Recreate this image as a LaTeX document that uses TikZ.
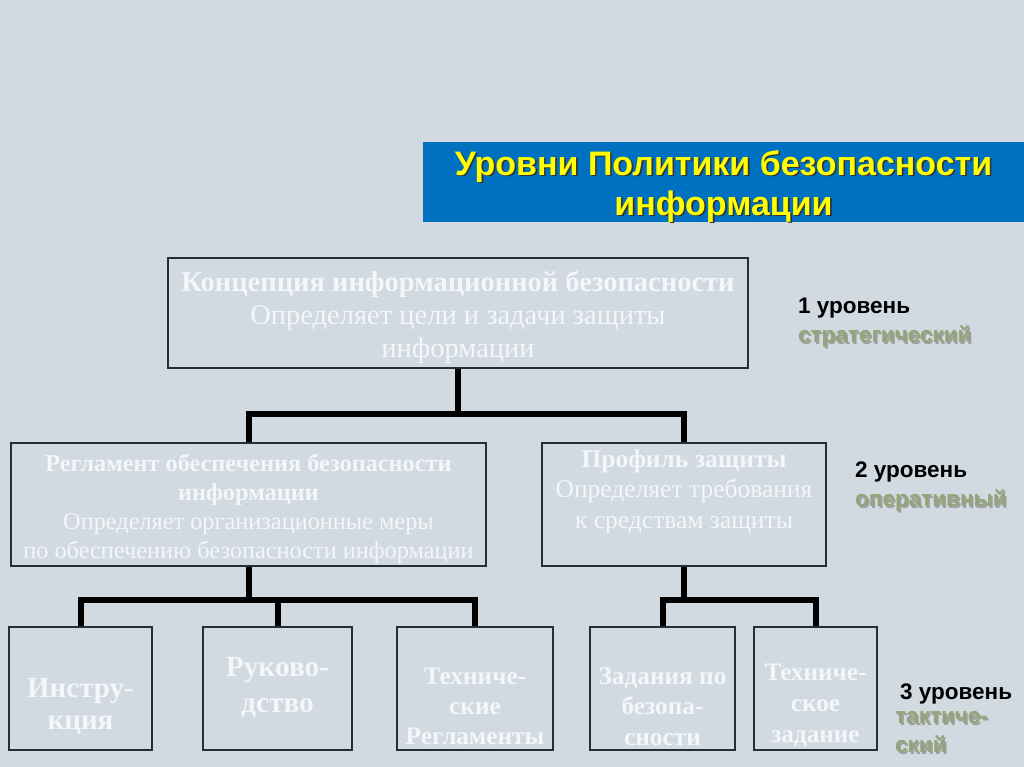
\documentclass[tikz,border=0pt]{standalone}
\usepackage{fontspec}
\setmainfont{Liberation Serif}
\newfontfamily\sansfont{Liberation Sans}
\usetikzlibrary{positioning,calc}
\definecolor{slidebg}{RGB}{209,217,225}
\definecolor{titleblue}{RGB}{0,112,192}
\definecolor{titleyellow}{RGB}{255,255,0}
\definecolor{boxline}{RGB}{40,44,52}
\definecolor{boxtext}{RGB}{244,246,249}
\definecolor{levelgreen}{RGB}{148,164,122}
\newcommand{\shtext}[2]{\leavevmode\rlap{\kern1.6pt\raisebox{-1.6pt}{\textcolor{#1}{#2}}}#2}

\begin{document}
\begin{tikzpicture}[x=1pt, y=-1pt,
    box/.style={draw=boxline, line width=1.4pt, fill=slidebg, inner sep=0pt},
    boxlabel/.style={text=boxtext, align=center, inner sep=0pt},
    link/.style={line width=6pt, black},
    lvl/.style={font=\sansfont\bfseries\fontsize{22.5}{29}\selectfont,
                align=left, anchor=north west, inner sep=0pt}]
  \useasboundingbox[fill=slidebg] (0,0) rectangle (1024,767);
  % title
  \node[fill=titleblue, minimum width=601, minimum height=80, inner sep=0pt,
        label={[text=titleyellow, align=center, inner sep=0pt, yshift=-5pt,
                font=\sansfont\bfseries\fontsize{34}{40}\selectfont]center:{\shtext{black!80}{Уровни Политики безопасности}\\\shtext{black!80}{информации}}}]
    (title) at (723.5,182) {};
  % level 1
  \node[box, minimum width=580, minimum height=110,
        label={[boxlabel, yshift=-4.5pt, font=\fontsize{28.5}{33}\selectfont]center:{\textbf{Концепция информационной безопасности}\\Определяет цели и задачи защиты\\информации}}]
    (kon) at (458,313) {};
  % level 2
  \node[box, minimum width=475, minimum height=123,
        label={[boxlabel, yshift=-4pt, font=\fontsize{24.3}{29}\selectfont]center:{\textbf{Регламент обеспечения безопасности}\\\textbf{информации}\\Определяет организационные меры\\по обеспечению безопасности информации}}]
    (reg) at (248.5,504.5) {};
  \node[box, minimum width=284, minimum height=123,
        label={[boxlabel, yshift=13pt, font=\fontsize{25.5}{30.5}\selectfont]center:{\textbf{Профиль защиты}\\Определяет требования\\к средствам защиты}}]
    (prof) at (684,504.5) {};
  % level 3
  \node[box, minimum width=143, minimum height=123,
        label={[boxlabel, yshift=-18pt, font=\bfseries\fontsize{29}{32}\selectfont]center:{Инстру-\\кция}}]
    (instr) at (80.5,688.5) {};
  \node[box, minimum width=149, minimum height=123,
        label={[boxlabel, yshift=1pt, font=\bfseries\fontsize{29.4}{36}\selectfont]center:{Руково-\\дство}}]
    (ruk) at (277.5,688.5) {};
  \node[box, minimum width=156, minimum height=123,
        label={[boxlabel, yshift=-18pt, font=\bfseries\fontsize{25.3}{30}\selectfont]center:{Техниче-\\ские\\Регламенты}}]
    (techreg) at (475,688.5) {};
  \node[box, minimum width=145, minimum height=123,
        label={[boxlabel, yshift=-18pt, font=\bfseries\fontsize{25.3}{30.5}\selectfont]center:{Задания по\\безопа-\\сности}}]
    (zad) at (662.5,688.5) {};
  \node[box, minimum width=123, minimum height=123,
        label={[boxlabel, yshift=-17pt, font=\bfseries\fontsize{25.2}{31}\selectfont]center:{Техниче-\\ское\\задание}}]
    (tz) at (815.5,688.5) {};
  % connectors
  \coordinate (bus1) at (0,414);
  \coordinate (bus2) at (0,600);
  \draw[link] (kon.south) -- (kon.south |- bus1) -| (reg.north);
  \draw[link] (kon.south |- bus1) -| (prof.north);
  \draw[link] (reg.south) -- (reg.south |- bus2) -| (instr.north);
  \draw[link] (reg.south |- bus2) -| (ruk.north);
  \draw[link] (reg.south |- bus2) -| (techreg.north);
  \draw[link] (prof.south) -- (prof.south |- bus2) -| (zad.north);
  \draw[link] (prof.south |- bus2) -| (tz.north);
  % level captions
  \node[lvl] (lvl1) at (798,298)
    {1 уровень\\\textcolor{levelgreen}{\shtext{gray!75}{стратегический}}};
  \node[lvl] (lvl2) at (855,462)
    {2 уровень\\\textcolor{levelgreen}{\shtext{gray!75}{оперативный}}};
  \node[lvl] (lvl3) at (895,684)
    {\hspace*{5pt}3 уровень\\[-5pt]\textcolor{levelgreen}{\shtext{gray!75}{тактиче-}}\\\textcolor{levelgreen}{\shtext{gray!75}{ский}}};
\end{tikzpicture}
\end{document}
